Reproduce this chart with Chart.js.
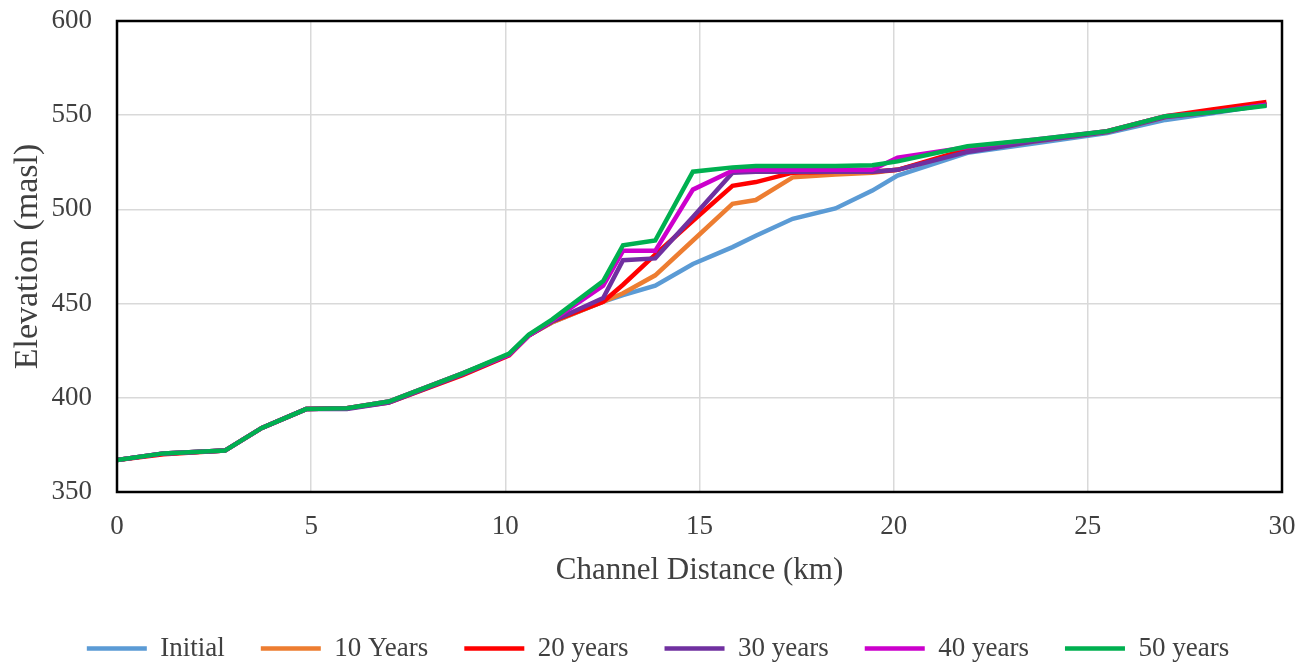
<!DOCTYPE html>
<html>
<head>
<meta charset="utf-8">
<script src="https://cdn.jsdelivr.net/npm/chart.js@4/dist/chart.umd.min.js"></script>
<style>
  html, body { margin: 0; padding: 0; background: #ffffff; }
  #wrap { width: 1316px; height: 665px; }
</style>
</head>
<body>
<div id="wrap"><canvas id="c" width="1316" height="665"></canvas></div>
<script>
// Channel distance (km) of surveyed cross-sections
const distanceKm = [0, 1.2, 2.78, 3.73, 4.87, 5.92, 7.0, 8.9, 10.1, 10.6, 11.2, 12.52, 13.03, 13.86, 14.83, 15.85, 16.45, 17.4, 18.5, 19.45, 20.1, 21.9, 23.6, 25.5, 27.0, 28.2, 29.6];

// Elevation (masl) per series
const initial  = [367, 370.5, 372, 384, 394, 394.5, 398, 413, 423, 433, 440, 451, 454.5, 459.5, 471, 480, 486, 495, 500.5, 510, 518, 530, 535, 540.5, 547.5, 551, 555.5];
const years10  = [367, 370.5, 372, 384, 394, 394.5, 398, 413, 423, 433, 440, 451, 455.5, 465, 483.5, 503, 505, 517, 518.5, 519.5, 521, 531, 536, 541, 549, 552, 556];
const years20  = [367, 370, 372, 384, 394, 394.5, 397.5, 412, 422.5, 433, 440.5, 451, 460, 476, 494, 512.5, 514.5, 519.5, 520, 520, 521, 532, 536.5, 541.5, 549.5, 553, 557];
const years30  = [367, 370.5, 372, 384, 394, 394, 397.5, 412.5, 423, 433, 440.5, 453, 473, 474, 496, 519.5, 520, 520, 520, 520, 521, 530.5, 536, 541, 549, 551.5, 555.5];
const years40  = [367, 370.5, 372, 384, 394, 394.5, 398, 413, 423, 433, 441, 459.5, 478, 478, 510.5, 520.5, 521, 521, 521, 521, 527.5, 533, 537, 541.5, 549.5, 551.5, 555.5];
const years50  = [367, 370.5, 372, 384, 394, 394.5, 398, 413, 423.5, 433.5, 441.5, 462, 481, 483.5, 520, 522.3, 523, 523, 523, 523.4, 525.5, 533.5, 537, 541.5, 549.5, 551.5, 555];

const seriesNames = ['Initial', '10 Years', '20 years', '30 years', '40 years', '50 years'];
const seriesValues = [initial, years10, years20, years30, years40, years50];
const seriesColors = ['#5B9BD5', '#ED7D31', '#FF0000', '#7030A0', '#CC00CC', '#00B050'];

const xTicks = [0, 5, 10, 15, 20, 25, 30];
const yTicks = [350, 400, 450, 500, 550, 600];

const datasets = seriesNames.map((name, i) => ({
  label: name,
  data: distanceKm.map((x, k) => ({ x: x, y: seriesValues[i][k] })),
  borderColor: seriesColors[i],
  backgroundColor: seriesColors[i],
  borderWidth: 4.5,
  pointRadius: 0,
  tension: 0,
  fill: false,
  order: seriesNames.length - i
}));

const framePlugin = {
  id: 'frame',
  afterDatasetsDraw(chart) {
    const a = chart.chartArea;
    const ctx = chart.ctx;
    ctx.save();
    ctx.strokeStyle = '#000000';
    ctx.lineWidth = 2.5;
    ctx.strokeRect(a.left, a.top, a.right - a.left, a.bottom - a.top);
    ctx.restore();
  }
};

const serif = "'Liberation Serif', 'Times New Roman', serif";

new Chart(document.getElementById('c'), {
  type: 'line',
  data: { datasets: datasets },
  plugins: [framePlugin],
  options: {
    responsive: false,
    animation: false,
    devicePixelRatio: 1,
    layout: { padding: { left: 0, right: 0, top: 21, bottom: 0 } },
    plugins: {
      legend: {
        position: 'bottom',
        maxHeight: 66,
        labels: {
          boxWidth: 60,
          boxHeight: 0,
          padding: 36,
          color: '#404040',
          font: { family: serif, size: 27 },
          sort: (a, b) => a.datasetIndex - b.datasetIndex
        }
      },
      tooltip: { enabled: false }
    },
    scales: {
      x: {
        type: 'linear',
        min: 0,
        max: 30,
        afterBuildTicks: (s) => { s.ticks = xTicks.map(v => ({ value: v })); },
        afterFit: (s) => { s.height = 107; s.paddingRight = 34; s.paddingLeft = 0; },
        grid: { color: '#D9D9D9', lineWidth: 1.5, drawTicks: false },
        border: { display: false },
        ticks: { color: '#404040', padding: 19, font: { family: serif, size: 27 }, maxRotation: 0 },
        title: {
          display: true,
          text: 'Channel Distance (km)',
          color: '#404040',
          font: { family: serif, size: 31 },
          padding: { top: 0, bottom: 10 }
        }
      },
      y: {
        type: 'linear',
        min: 350,
        max: 600,
        afterBuildTicks: (s) => { s.ticks = yTicks.map(v => ({ value: v })); },
        afterFit: (s) => { s.width = 117; s.paddingTop = 0; s.paddingBottom = 0; },
        grid: { color: '#D9D9D9', lineWidth: 1.5, drawTicks: false },
        border: { display: false },
        ticks: { color: '#404040', padding: 25, font: { family: serif, size: 27 } },
        title: {
          display: true,
          text: 'Elevation (masl)',
          color: '#404040',
          font: { family: serif, size: 34 },
          padding: { top: 8, bottom: 0 }
        }
      }
    }
  }
});
</script>
</body>
</html>
